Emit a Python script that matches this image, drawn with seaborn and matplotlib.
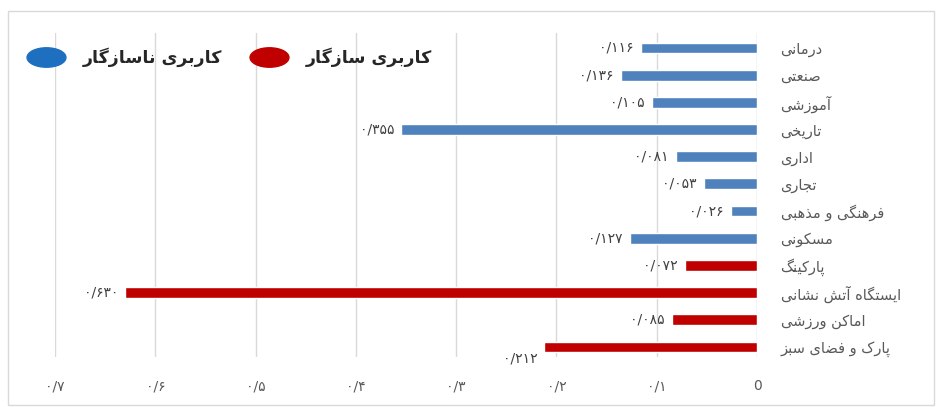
import pandas as pd
import numpy as np
import matplotlib.pyplot as plt
import seaborn as sns
from matplotlib.lines import Line2D
from matplotlib.path import Path
from matplotlib.patches import Rectangle
from matplotlib.transforms import Affine2D

# chart data (top to bottom)
categories = ['درمانی', 'صنعتی', 'آموزشی', 'تاریخی', 'اداری', 'تجاری',
              'فرهنگی و مذهبی', 'مسکونی', 'پارکینگ', 'ایستگاه آتش نشانی',
              'اماکن ورزشی', 'پارک و فضای سبز']
values = [0.116, 0.136, 0.105, 0.355, 0.081, 0.053,
          0.026, 0.127, 0.072, 0.630, 0.085, 0.212]
groups = ['کاربری ناسازگار'] * 8 + ['کاربری سازگار'] * 4
x_ticks = [0.7, 0.6, 0.5, 0.4, 0.3, 0.2, 0.1, 0]

colors = {'کاربری ناسازگار': '#4F81BD', 'کاربری سازگار': '#C00000'}
legend_colors = {'کاربری ناسازگار': '#1F6FC0', 'کاربری سازگار': '#C00000'}

# matplotlib has no arabic shaping, so pick presentation forms by hand
FORMS = {
    'ا': '\uFE8D\uFE8E', 'آ': '\uFE81\uFE82', 'د': '\uFEA9\uFEAA', 'ذ': '\uFEAB\uFEAC',
    'ر': '\uFEAD\uFEAE', 'ز': '\uFEAF\uFEB0', 'و': '\uFEED\uFEEE', 'ژ': '\uFB8A\uFB8B',
    'ب': '\uFE8F\uFE90\uFE91\uFE92', 'پ': '\uFB56\uFB57\uFB58\uFB59',
    'ت': '\uFE95\uFE96\uFE97\uFE98', 'ج': '\uFE9D\uFE9E\uFE9F\uFEA0',
    'ح': '\uFEA1\uFEA2\uFEA3\uFEA4', 'خ': '\uFEA5\uFEA6\uFEA7\uFEA8',
    'س': '\uFEB1\uFEB2\uFEB3\uFEB4', 'ش': '\uFEB5\uFEB6\uFEB7\uFEB8',
    'ص': '\uFEB9\uFEBA\uFEBB\uFEBC', 'ض': '\uFEBD\uFEBE\uFEBF\uFEC0',
    'ع': '\uFEC9\uFECA\uFECB\uFECC', 'ف': '\uFED1\uFED2\uFED3\uFED4',
    'ک': '\uFB8E\uFB8F\uFB90\uFB91', 'گ': '\uFB92\uFB93\uFB94\uFB95',
    'ل': '\uFEDD\uFEDE\uFEDF\uFEE0', 'م': '\uFEE1\uFEE2\uFEE3\uFEE4',
    'ن': '\uFEE5\uFEE6\uFEE7\uFEE8', 'ه': '\uFEE9\uFEEA\uFEEB\uFEEC',
    'ی': '\uFBFC\uFBFD\uFBFE\uFBFF',
}
RIGHT_ONLY = set('اآدذرزوژ')


def shape(s):
    out = []
    for i, ch in enumerate(s):
        if ch not in FORMS:
            out.append(ch)
            continue
        prev = s[i - 1] if i > 0 else ''
        nxt = s[i + 1] if i + 1 < len(s) else ''
        jp = prev in FORMS and prev not in RIGHT_ONLY
        jn = ch not in RIGHT_ONLY and nxt in FORMS
        f = FORMS[ch]
        if jp and jn:
            out.append(f[3])
        elif jp:
            out.append(f[1])
        elif jn:
            out.append(f[2])
        else:
            out.append(f[0])
    return ''.join(reversed(out))


def fa_num(v, nd):
    if v == 0:
        return '0'
    s = f'{v:.{nd}f}'.replace('.', '/')
    return s.translate(str.maketrans('0123456789', '۰۱۲۳۴۵۶۷۸۹'))


df = pd.DataFrame({'category': categories, 'value': values, 'group': groups})

sns.set_style('white')
plt.rcParams['font.family'] = ['DejaVu Sans']

fig = plt.figure(figsize=(9.36, 4.07), dpi=100)
ax = fig.add_axes([55 / 936, 1 - 357 / 407, 702 / 936, 324 / 407])

sns.barplot(data=df, x='value', y='category', hue='group', palette=colors,
            dodge=False, width=0.4, orient='h', legend=False, ax=ax,
            saturation=1)

ax.set_xlim(0.7, 0)
ax.set_ylim(11.37, -0.55)
for t in x_ticks[:-1]:
    ax.axvline(t, color='#d9d9d9', lw=1, zorder=0)
ax.axvline(0, color='#b9cde2', lw=1, zorder=0)

ax.set_xticks(x_ticks)
ax.set_xticklabels([fa_num(t, 1) for t in x_ticks], color='#595959', fontsize=10)
ax.yaxis.tick_right()
ax.set_yticks(range(len(categories)))
ax.set_yticklabels([shape(c) for c in categories], color='#595959', fontsize=10.5,
                   ha='left')
ax.tick_params(axis='x', length=0, pad=16)
ax.tick_params(axis='y', length=0, pad=17)
ax.set_xlabel('')
ax.set_ylabel('')
sns.despine(ax=ax, left=True, bottom=True, right=True, top=True)

# value labels
for i, v in enumerate(values):
    dy = 8 if i == len(values) - 1 else 0
    ax.annotate(fa_num(v, 3), (v, i), xytext=(-5, -dy), textcoords='offset points',
                ha='right', va='center', fontsize=10, color='#404040')

# legend with oval markers
oval = Path.unit_circle().transformed(Affine2D().scale(1, 0.5))
handles = [Line2D([], [], ls='', marker=oval, markersize=28,
                  color=legend_colors[g], markeredgecolor=legend_colors[g])
           for g in ['کاربری ناسازگار', 'کاربری سازگار']]
ax.legend(handles, [shape(g) for g in ['کاربری ناسازگار', 'کاربری سازگار']],
          ncol=2, frameon=False, loc='center left', bbox_to_anchor=(-0.062, 0.925),
          handlelength=2.2, columnspacing=1.6, handletextpad=1.0,
          labelcolor='#262626', prop={'weight': 'bold', 'size': 12.5})

# outer chart frame
fig.patches.append(Rectangle((8 / 936, 2 / 407), 926 / 936, 394 / 407,
                             transform=fig.transFigure, fill=False,
                             edgecolor='#d9d9d9', lw=1))

fig.savefig('out.png', dpi=100)
